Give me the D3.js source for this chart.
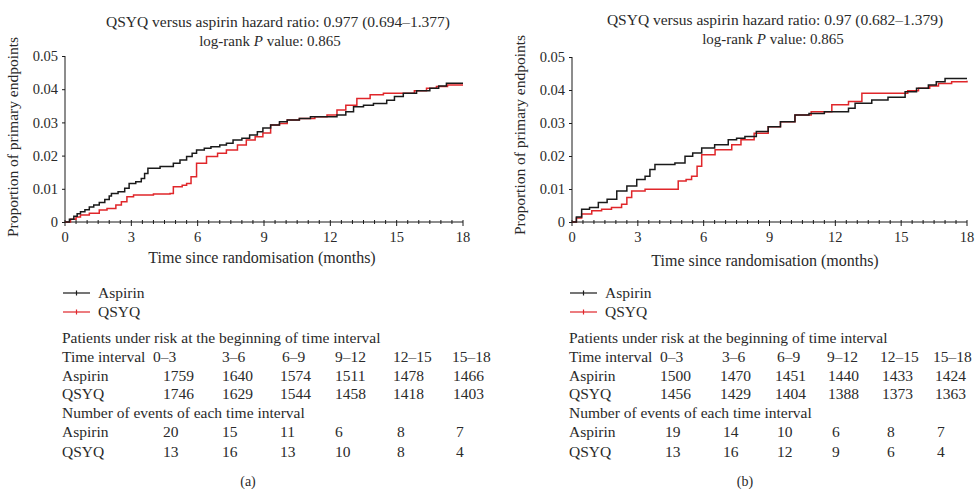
<!DOCTYPE html>
<html>
<head>
<meta charset="utf-8">
<script src="https://cdn.jsdelivr.net/npm/d3@7"></script>
<style>
  body { margin: 0; background: #fff; }
  svg text { font-family: "Liberation Serif", "DejaVu Serif", serif; fill: #2a2a2a; }
</style>
</head>
<body>
<svg id="chart" width="977" height="489"></svg>
<script>
// Kaplan-Meier curves, [months, proportion]
const aspirinA = [[0,0],[0.2,0.0008],[0.4,0.0017],[0.55,0.0025],[0.7,0.0031],[0.9,0.0037],[1.1,0.0045],[1.3,0.0051],[1.55,0.0059],[1.8,0.0068],[2.0,0.0078],[2.1,0.0086],[2.4,0.0091],[2.7,0.0102],[2.9,0.0116],[3.2,0.0121],[3.45,0.0131],[3.6,0.0146],[3.75,0.0162],[4.1,0.0162],[4.3,0.0167],[4.7,0.0167],[4.9,0.0177],[5.2,0.0187],[5.5,0.0197],[5.75,0.0207],[5.95,0.0217],[6.3,0.0222],[6.6,0.0227],[7.0,0.0232],[7.3,0.0237],[7.6,0.0247],[8.0,0.0252],[8.35,0.0262],[8.7,0.0272],[8.95,0.0283],[9.3,0.0292],[9.7,0.0302],[10.05,0.0307],[10.6,0.0312],[11.1,0.0317],[11.7,0.0317],[12.3,0.0322],[12.7,0.0332],[13.05,0.0347],[13.5,0.0352],[13.95,0.0357],[14.55,0.0367],[14.9,0.0378],[15.3,0.0388],[15.9,0.0395],[16.5,0.0403],[16.9,0.041],[17.25,0.0418],[18,0.0418]];
const qsyqA = [[0,0],[0.25,0.0008],[0.5,0.0015],[0.7,0.0021],[1.1,0.0026],[1.55,0.0036],[1.9,0.0041],[2.3,0.0051],[2.55,0.0061],[2.8,0.0076],[3.1,0.0081],[3.55,0.0081],[4.0,0.0084],[4.75,0.0086],[4.9,0.0106],[5.3,0.0111],[5.5,0.0116],[5.7,0.0136],[5.95,0.0177],[6.4,0.0197],[6.9,0.0207],[7.3,0.0217],[7.8,0.0232],[8.2,0.0247],[8.6,0.0257],[8.95,0.0268],[9.3,0.0292],[9.7,0.0297],[10.05,0.0307],[10.6,0.0312],[11.3,0.0317],[11.85,0.0322],[12.3,0.0337],[12.7,0.0352],[13.2,0.0372],[13.8,0.0383],[14.4,0.0388],[15.3,0.0388],[15.8,0.0395],[16.35,0.0403],[16.8,0.0408],[17.3,0.0413],[18,0.0413]];
const aspirinB = [[0,0],[0.2,0.0015],[0.44,0.0039],[0.8,0.0044],[1.2,0.0059],[1.6,0.0069],[2.04,0.0094],[2.5,0.0109],[2.95,0.0129],[3.33,0.0139],[3.55,0.0159],[3.78,0.0174],[4.2,0.0174],[4.69,0.0179],[5.15,0.0199],[5.5,0.0209],[5.91,0.0224],[6.5,0.0234],[7.12,0.0249],[7.5,0.0254],[7.88,0.0259],[8.4,0.0274],[8.94,0.0289],[9.5,0.0304],[10.16,0.0324],[10.8,0.0329],[11.5,0.0334],[12.29,0.0334],[12.6,0.0345],[12.9,0.036],[13.66,0.037],[14.4,0.0378],[15.18,0.0395],[15.7,0.0405],[16.24,0.0415],[16.6,0.0425],[17.0,0.0435],[18,0.0435]];
const qsyqB = [[0,0],[0.2,0.0012],[0.44,0.0024],[0.9,0.0034],[1.35,0.0039],[1.8,0.0044],[2.26,0.0054],[2.5,0.0074],[2.72,0.0094],[3.33,0.0099],[4.69,0.0099],[4.84,0.0124],[5.2,0.0129],[5.45,0.0139],[5.7,0.0169],[5.91,0.0204],[6.52,0.0219],[7.28,0.0234],[7.7,0.0249],[8.3,0.0269],[8.94,0.0289],[9.5,0.0304],[10.16,0.0324],[10.9,0.0334],[11.84,0.0355],[12.6,0.0365],[13.21,0.039],[14.88,0.039],[15.3,0.0398],[15.79,0.0405],[16.3,0.0412],[16.7,0.042],[17.3,0.0425],[18,0.0428]];

const xTicks = [0, 3, 6, 9, 12, 15, 18];
const yTicks = [0, 0.01, 0.02, 0.03, 0.04, 0.05];
const intervals = ['0\u20133', '3\u20136', '6\u20139', '9\u201312', '12\u201315', '15\u201318'];

const riskAspirinA = [1759, 1640, 1574, 1511, 1478, 1466];
const riskQsyqA = [1746, 1629, 1544, 1458, 1418, 1403];
const eventsAspirinA = [20, 15, 11, 6, 8, 7];
const eventsQsyqA = [13, 16, 13, 10, 8, 4];

const riskAspirinB = [1500, 1470, 1451, 1440, 1433, 1424];
const riskQsyqB = [1456, 1429, 1404, 1388, 1373, 1363];
const eventsAspirinB = [19, 14, 10, 6, 8, 7];
const eventsQsyqB = [13, 16, 12, 9, 6, 4];

const titleA = ['QSYQ versus aspirin hazard ratio: 0.977 (0.694\u20131.377)', 'log-rank '];
const titleB = ['QSYQ versus aspirin hazard ratio: 0.97 (0.682\u20131.379)', 'log-rank '];
const pValues = ['0.865', '0.865'];

const BLACK = '#1a1a1a';
const RED = '#e0262a';
const FONT = 15.5;

const svg = d3.select('#chart');

function drawPanel(p) {
    const g = svg.append('g');
    const x = d3.scaleLinear().domain([0, 18]).range([p.x0, p.x1]);
    const y = d3.scaleLinear().domain([0, 0.05]).range([p.yBot, p.yTop]);

    // title
    g.append('text')
        .attr('x', p.t1x).attr('y', p.t1y)
        .attr('text-anchor', 'middle')
        .attr('font-size', '15.5px')
        .text(p.title[0]);
    const t2 = g.append('text')
        .attr('x', p.t2x).attr('y', p.t1y + 19)
        .attr('text-anchor', 'middle')
        .attr('font-size', '15px');
    t2.append('tspan').text(p.title[1]);
    t2.append('tspan').attr('font-style', 'italic').text('P');
    t2.append('tspan').text(' value: ' + p.pValue);

    // y axis
    const yAxis = d3.axisLeft(y).tickValues(yTicks).tickSize(3).tickPadding(4)
        .tickFormat(d => d === 0 ? '0' : d3.format('.2f')(d));
    g.append('g')
        .attr('transform', `translate(${p.x0},0)`)
        .call(yAxis)
        .call(a => a.select('.domain').attr('stroke', BLACK).attr('d', `M0,${p.yTop}V${p.yBot}`))
        .call(a => a.selectAll('.tick line').attr('stroke', BLACK))
        .call(a => a.selectAll('text').attr('font-size', '14.5px').attr('font-family', '"Liberation Serif", serif').attr('fill', '#2a2a2a'));

    // x axis with crossing minor ticks
    const xg = g.append('g').attr('transform', `translate(0,${p.yBot})`);
    xg.append('line')
        .attr('x1', p.x0).attr('x2', p.x1)
        .attr('stroke', BLACK);
    xg.selectAll('line.minor')
        .data(d3.range(0, 18.01, 0.5))
        .enter()
        .append('line')
        .attr('class', 'minor')
        .attr('x1', d => x(d)).attr('x2', d => x(d))
        .attr('y1', -2).attr('y2', d => (d % 3 === 0 ? 4 : 2))
        .attr('stroke', BLACK);
    xg.selectAll('text')
        .data(xTicks)
        .enter()
        .append('text')
        .attr('x', d => x(d))
        .attr('y', 20)
        .attr('text-anchor', 'middle')
        .attr('font-size', '14.5px')
        .text(d => d);

    // axis titles
    g.append('text')
        .attr('transform', `translate(${p.yTitleX},${p.yTitleY}) rotate(-90)`)
        .attr('text-anchor', 'middle')
        .attr('font-size', '15.5px')
        .text('Proportion of primary endpoints');
    g.append('text')
        .attr('x', p.xTitleX).attr('y', p.xTitleY)
        .attr('text-anchor', 'middle')
        .attr('font-size', '16px')
        .text('Time since randomisation (months)');

    // curves
    const line = d3.line()
        .x(d => x(d[0]))
        .y(d => y(d[1]))
        .curve(d3.curveStepAfter);
    g.append('path')
        .datum(p.qsyq)
        .attr('fill', 'none')
        .attr('stroke', RED)
        .attr('stroke-width', 1.5)
        .attr('d', line);
    g.append('path')
        .datum(p.aspirin)
        .attr('fill', 'none')
        .attr('stroke', BLACK)
        .attr('stroke-width', 1.5)
        .attr('d', line);

    // legend
    const legend = [
        { name: 'Aspirin', color: BLACK, y: 293 },
        { name: 'QSYQ', color: RED, y: 312 }
    ];
    legend.forEach(l => {
        g.append('line')
            .attr('x1', p.legX).attr('x2', p.legX + 27)
            .attr('y1', l.y).attr('y2', l.y)
            .attr('stroke', l.color).attr('stroke-width', 1.2);
        g.append('line')
            .attr('x1', p.legX + 13.5).attr('x2', p.legX + 13.5)
            .attr('y1', l.y - 2.5).attr('y2', l.y + 2.5)
            .attr('stroke', l.color).attr('stroke-width', 1.2);
        g.append('text')
            .attr('x', p.legX + 35).attr('y', l.y + 5)
            .attr('font-size', FONT + 'px')
            .text(l.name);
    });

    // risk table
    const rows = [
        { label: 'Patients under risk at the beginning of time interval', y: 343 },
        { label: 'Time interval', y: 362, values: intervals, cols: p.headCols },
        { label: 'Aspirin', y: 381, values: p.riskAspirin, cols: p.valCols },
        { label: 'QSYQ', y: 399, values: p.riskQsyq, cols: p.valCols },
        { label: 'Number of events of each time interval', y: 418 },
        { label: 'Aspirin', y: 437, values: p.eventsAspirin, cols: p.evCols },
        { label: 'QSYQ', y: 457, values: p.eventsQsyq, cols: p.evCols }
    ];
    rows.forEach(r => {
        g.append('text')
            .attr('x', p.tabX).attr('y', r.y)
            .attr('font-size', FONT + 'px')
            .text(r.label);
        if (r.values) {
            r.values.forEach((v, i) => {
                g.append('text')
                    .attr('x', r.cols[i]).attr('y', r.y)
                    .attr('font-size', FONT + 'px')
                    .text(v);
            });
        }
    });

    g.append('text')
        .attr('x', p.capX).attr('y', 486)
        .attr('text-anchor', 'middle')
        .attr('font-size', '14px')
        .text(p.caption);
}

drawPanel({
    x0: 65, x1: 463, yTop: 56, yBot: 222,
    t1x: 278, t2x: 270, t1y: 27, title: titleA, pValue: pValues[0],
    yTitleX: 18, yTitleY: 137, xTitleX: 262, xTitleY: 263,
    aspirin: aspirinA, qsyq: qsyqA,
    legX: 63, tabX: 62,
    headCols: [153, 222, 282, 335, 393, 452],
    valCols: [163, 222, 280, 335, 393, 453],
    evCols: [163, 222, 280, 335, 397, 456],
    riskAspirin: riskAspirinA, riskQsyq: riskQsyqA,
    eventsAspirin: eventsAspirinA, eventsQsyq: eventsQsyqA,
    capX: 248, caption: '(a)'
});

drawPanel({
    x0: 572, x1: 967, yTop: 57, yBot: 222,
    t1x: 775, t2x: 773, t1y: 25, title: titleB, pValue: pValues[1],
    yTitleX: 525, yTitleY: 135, xTitleX: 765, xTitleY: 266,
    aspirin: aspirinB, qsyq: qsyqB,
    legX: 570, tabX: 569,
    headCols: [660, 722, 777, 827, 880, 933],
    valCols: [660, 720, 775, 828, 882, 935],
    evCols: [665, 723, 777, 832, 887, 937],
    riskAspirin: riskAspirinB, riskQsyq: riskQsyqB,
    eventsAspirin: eventsAspirinB, eventsQsyq: eventsQsyqB,
    capX: 745, caption: '(b)'
});
</script>
</body>
</html>
